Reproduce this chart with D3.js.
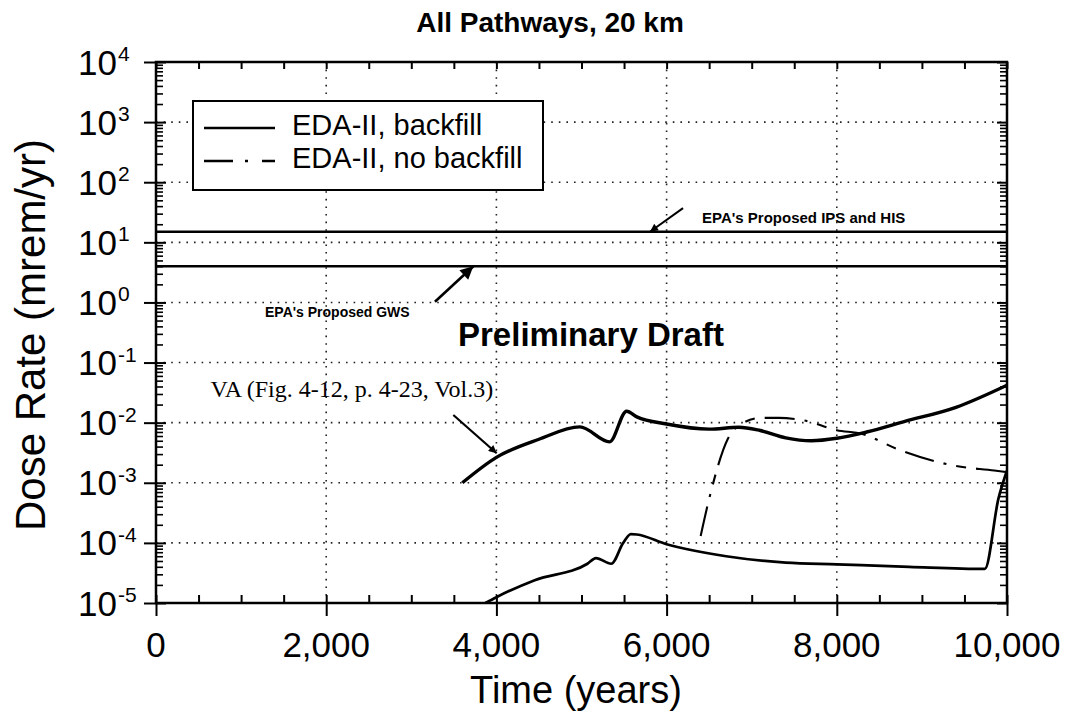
<!DOCTYPE html>
<html><head><meta charset="utf-8">
<script src="https://cdn.jsdelivr.net/npm/d3@7"></script>
<style>body{margin:0;background:#fff} svg{display:block} text{font-family:"Liberation Sans",Arial,Helvetica,sans-serif}</style>
</head><body><svg id="c" width="1067" height="723"></svg>
<script>
// ---------- data ----------
const xTicks = [0, 2000, 4000, 6000, 8000, 10000];
const xTickLabels = ["0", "2,000", "4,000", "6,000", "8,000", "10,000"];
const yExponents = [-5, -4, -3, -2, -1, 0, 1, 2, 3, 4];
// VA (Fig. 4-12, p. 4-23, Vol.3)
const vaT = [3600, 4000, 4500, 4980, 5330, 5530, 5650, 6000, 6500, 6850, 7100, 7400, 7700, 8000, 8350, 8800, 9400, 10000];
const vaV = [1.0e-3, 2.65e-3, 5.3e-3, 8.5e-3, 4.8e-3, 1.55e-2, 1.25e-2, 9.5e-3, 7.8e-3, 8.4e-3, 7.4e-3, 5.6e-3, 5.0e-3, 5.5e-3, 7.0e-3, 1.05e-2, 1.8e-2, 4.2e-2];
// EDA-II, backfill
const bfT = [3870, 4000, 4450, 5070, 5170, 5350, 5490, 5580, 5650, 6000, 6700, 7400, 8000, 8850, 9740, 9900, 10000];
const bfV = [1.0e-5, 1.25e-5, 2.4e-5, 4.5e-5, 5.6e-5, 4.5e-5, 1.0e-4, 1.4e-4, 1.38e-4, 9.5e-5, 6.0e-5, 4.7e-5, 4.4e-5, 4.0e-5, 3.7e-5, 5.5e-4, 1.6e-3];
// EDA-II, no backfill
const nbT = [6400, 6500, 6720, 6900, 7100, 7320, 7600, 8000, 8300, 8700, 9400, 9850, 10000];
const nbV = [1.3e-4, 5.4e-4, 5.4e-3, 9.9e-3, 1.2e-2, 1.2e-2, 1.1e-2, 7.5e-3, 6.5e-3, 3.7e-3, 1.9e-3, 1.6e-3, 1.5e-3];
// EPA limits
const refLevels = [15, 4];
const refLabels = ["EPA's Proposed IPS and HIS", "EPA's Proposed GWS"];
const seriesNames = ["EDA-II, backfill", "EDA-II, no backfill"];

// ---------- layout ----------
const M = {l: 156, r: 1007, t: 62, b: 603};
const svg = d3.select("#c");
const x = d3.scaleLinear().domain([0, 10000]).range([M.l, M.r]);
const y = d3.scaleLog().domain([1e-5, 1e4]).range([M.b, M.t]);

const defs = svg.append("defs");
defs.append("clipPath").attr("id", "clip")
  .append("rect").attr("x", M.l).attr("y", M.t).attr("width", M.r - M.l).attr("height", M.b - M.t);
function marker(id, w, h) {
  defs.append("marker").attr("id", id)
    .attr("viewBox", "0 0 10 10").attr("refX", 10).attr("refY", 5)
    .attr("markerWidth", w).attr("markerHeight", h).attr("markerUnits", "userSpaceOnUse")
    .attr("orient", "auto")
    .append("path").attr("d", "M0,0 L10,5 L0,10 z").attr("fill", "#000");
}
marker("ah", 11, 8);
marker("ah2", 20, 13);

// grid
const grid = svg.append("g").attr("stroke", "#222").attr("stroke-width", 1.6).attr("stroke-dasharray", "1.6,6");
xTicks.slice(1, -1).forEach(v => grid.append("line").attr("x1", x(v)).attr("x2", x(v)).attr("y1", M.t).attr("y2", M.b));
yExponents.slice(1, -1).forEach(e => grid.append("line").attr("x1", M.l).attr("x2", M.r).attr("y1", y(Math.pow(10, e))).attr("y2", y(Math.pow(10, e))));

// minor tick values
const minorX = d3.range(0, 10001, 500);
const minorY = [];
yExponents.slice(0, -1).forEach(e => { for (let k = 2; k <= 9; k++) minorY.push(k * Math.pow(10, e)); });
const decades = yExponents.map(e => Math.pow(10, e));

function ax(gen, tr) {
  const g = svg.append("g").attr("transform", tr).call(gen);
  g.select(".domain").remove();
  g.selectAll(".tick line").attr("stroke", "#000").attr("stroke-width", 2);
  return g;
}
ax(d3.axisBottom(x).tickValues(xTicks).tickSize(13).tickFormat(""), `translate(0,${M.b})`);
ax(d3.axisTop(x).tickValues(minorX).tickSize(8).tickFormat(""), `translate(0,${M.b})`);
ax(d3.axisBottom(x).tickValues(minorX).tickSize(7).tickFormat(""), `translate(0,${M.t})`);
ax(d3.axisLeft(y).tickValues(decades).tickSize(12).tickFormat(""), `translate(${M.l},0)`);
ax(d3.axisRight(y).tickValues(decades).tickSize(10).tickFormat(""), `translate(${M.l},0)`);
ax(d3.axisRight(y).tickValues(minorY).tickSize(7).tickFormat(""), `translate(${M.l},0)`).selectAll(".tick line").attr("stroke-width", 1.6);
ax(d3.axisLeft(y).tickValues(decades).tickSize(10).tickFormat(""), `translate(${M.r},0)`);
ax(d3.axisLeft(y).tickValues(minorY).tickSize(7).tickFormat(""), `translate(${M.r},0)`).selectAll(".tick line").attr("stroke-width", 1.6);

// tick labels
xTicks.forEach((v, i) => svg.append("text").attr("x", x(v)).attr("y", 657).attr("text-anchor", "middle")
  .attr("font-size", 35).text(xTickLabels[i]));
yExponents.forEach(e => {
  svg.append("text").attr("x", 117).attr("y", y(Math.pow(10, e)) + 12.5).attr("text-anchor", "end")
    .attr("font-size", 35).text("10");
  svg.append("text").attr("x", 118).attr("y", y(Math.pow(10, e)) - 1).attr("font-size", 21).text(String(e));
});

// axis titles
svg.append("text").attr("x", 576).attr("y", 703).attr("text-anchor", "middle").attr("font-size", 38).text("Time (years)");
svg.append("text").attr("transform", "translate(45,335) rotate(-90)").attr("text-anchor", "middle").attr("font-size", 42).text("Dose Rate (mrem/yr)");
svg.append("text").attr("x", 550).attr("y", 32).attr("text-anchor", "middle").attr("font-size", 28).attr("font-weight", "bold").text("All Pathways, 20 km");

// reference lines
refLevels.forEach(v => svg.append("line").attr("x1", M.l).attr("x2", M.r).attr("y1", y(v)).attr("y2", y(v)).attr("stroke", "#000").attr("stroke-width", 2.4));

// curves
const line = d3.line().x(d => x(d[0])).y(d => y(d[1])).curve(d3.curveMonotoneX);
const cg = svg.append("g").attr("clip-path", "url(#clip)").attr("fill", "none").attr("stroke", "#000").attr("stroke-linejoin", "round");
cg.append("path").attr("d", line(d3.zip(vaT, vaV))).attr("stroke-width", 3.4);
cg.append("path").attr("d", line(d3.zip(bfT, bfV))).attr("stroke-width", 2.7);
cg.append("path").attr("d", line(d3.zip(nbT, nbV))).attr("stroke-width", 2.1).attr("stroke-dasharray", "30,10,3,10,10,10");

// frame
svg.append("rect").attr("x", M.l).attr("y", M.t).attr("width", M.r - M.l).attr("height", M.b - M.t)
  .attr("fill", "none").attr("stroke", "#000").attr("stroke-width", 2.5);

// annotations (data-space anchors)
svg.append("text").attr("x", x(6416)).attr("y", y(21)).attr("font-size", 15).attr("font-weight", "bold").text(refLabels[0]);
svg.append("line").attr("x1", x(6193)).attr("y1", y(37)).attr("x2", x(5805)).attr("y2", y(15))
  .attr("stroke", "#000").attr("stroke-width", 2).attr("marker-end", "url(#ah)");
svg.append("text").attr("x", x(1281)).attr("y", y(0.573)).attr("font-size", 14).attr("font-weight", "bold").text(refLabels[1]);
svg.append("line").attr("x1", x(3278)).attr("y1", y(1.03)).attr("x2", x(3729)).attr("y2", y(4))
  .attr("stroke", "#000").attr("stroke-width", 2.6).attr("marker-end", "url(#ah2)");
svg.append("text").attr("x", x(3549)).attr("y", y(0.188)).attr("font-size", 33).attr("font-weight", "bold").text("Preliminary Draft");
svg.append("text").attr("x", x(640)).attr("y", y(0.0267)).attr("font-size", 24).style("font-family", "'Liberation Serif','Times New Roman',serif").text("VA (Fig. 4-12, p. 4-23, Vol.3)");
svg.append("line").attr("x1", x(3494)).attr("y1", y(0.0134)).attr("x2", x(4003)).attr("y2", y(3.1e-3))
  .attr("stroke", "#000").attr("stroke-width", 2.2).attr("marker-end", "url(#ah)");

// legend
const lg = svg.append("g");
lg.append("rect").attr("x", 193).attr("y", 101).attr("width", 350).attr("height", 89).attr("fill", "#fff").attr("stroke", "#000").attr("stroke-width", 2);
lg.append("line").attr("x1", 204).attr("x2", 275).attr("y1", 128).attr("y2", 128).attr("stroke", "#000").attr("stroke-width", 2.5);
lg.append("line").attr("x1", 204).attr("x2", 275).attr("y1", 161).attr("y2", 161).attr("stroke", "#000").attr("stroke-width", 2.5).attr("stroke-dasharray", "29,12,3,14,13");
lg.append("text").attr("x", 292).attr("y", 135).attr("font-size", 29).text(seriesNames[0]);
lg.append("text").attr("x", 292).attr("y", 168).attr("font-size", 29).text(seriesNames[1]);
</script></body></html>
